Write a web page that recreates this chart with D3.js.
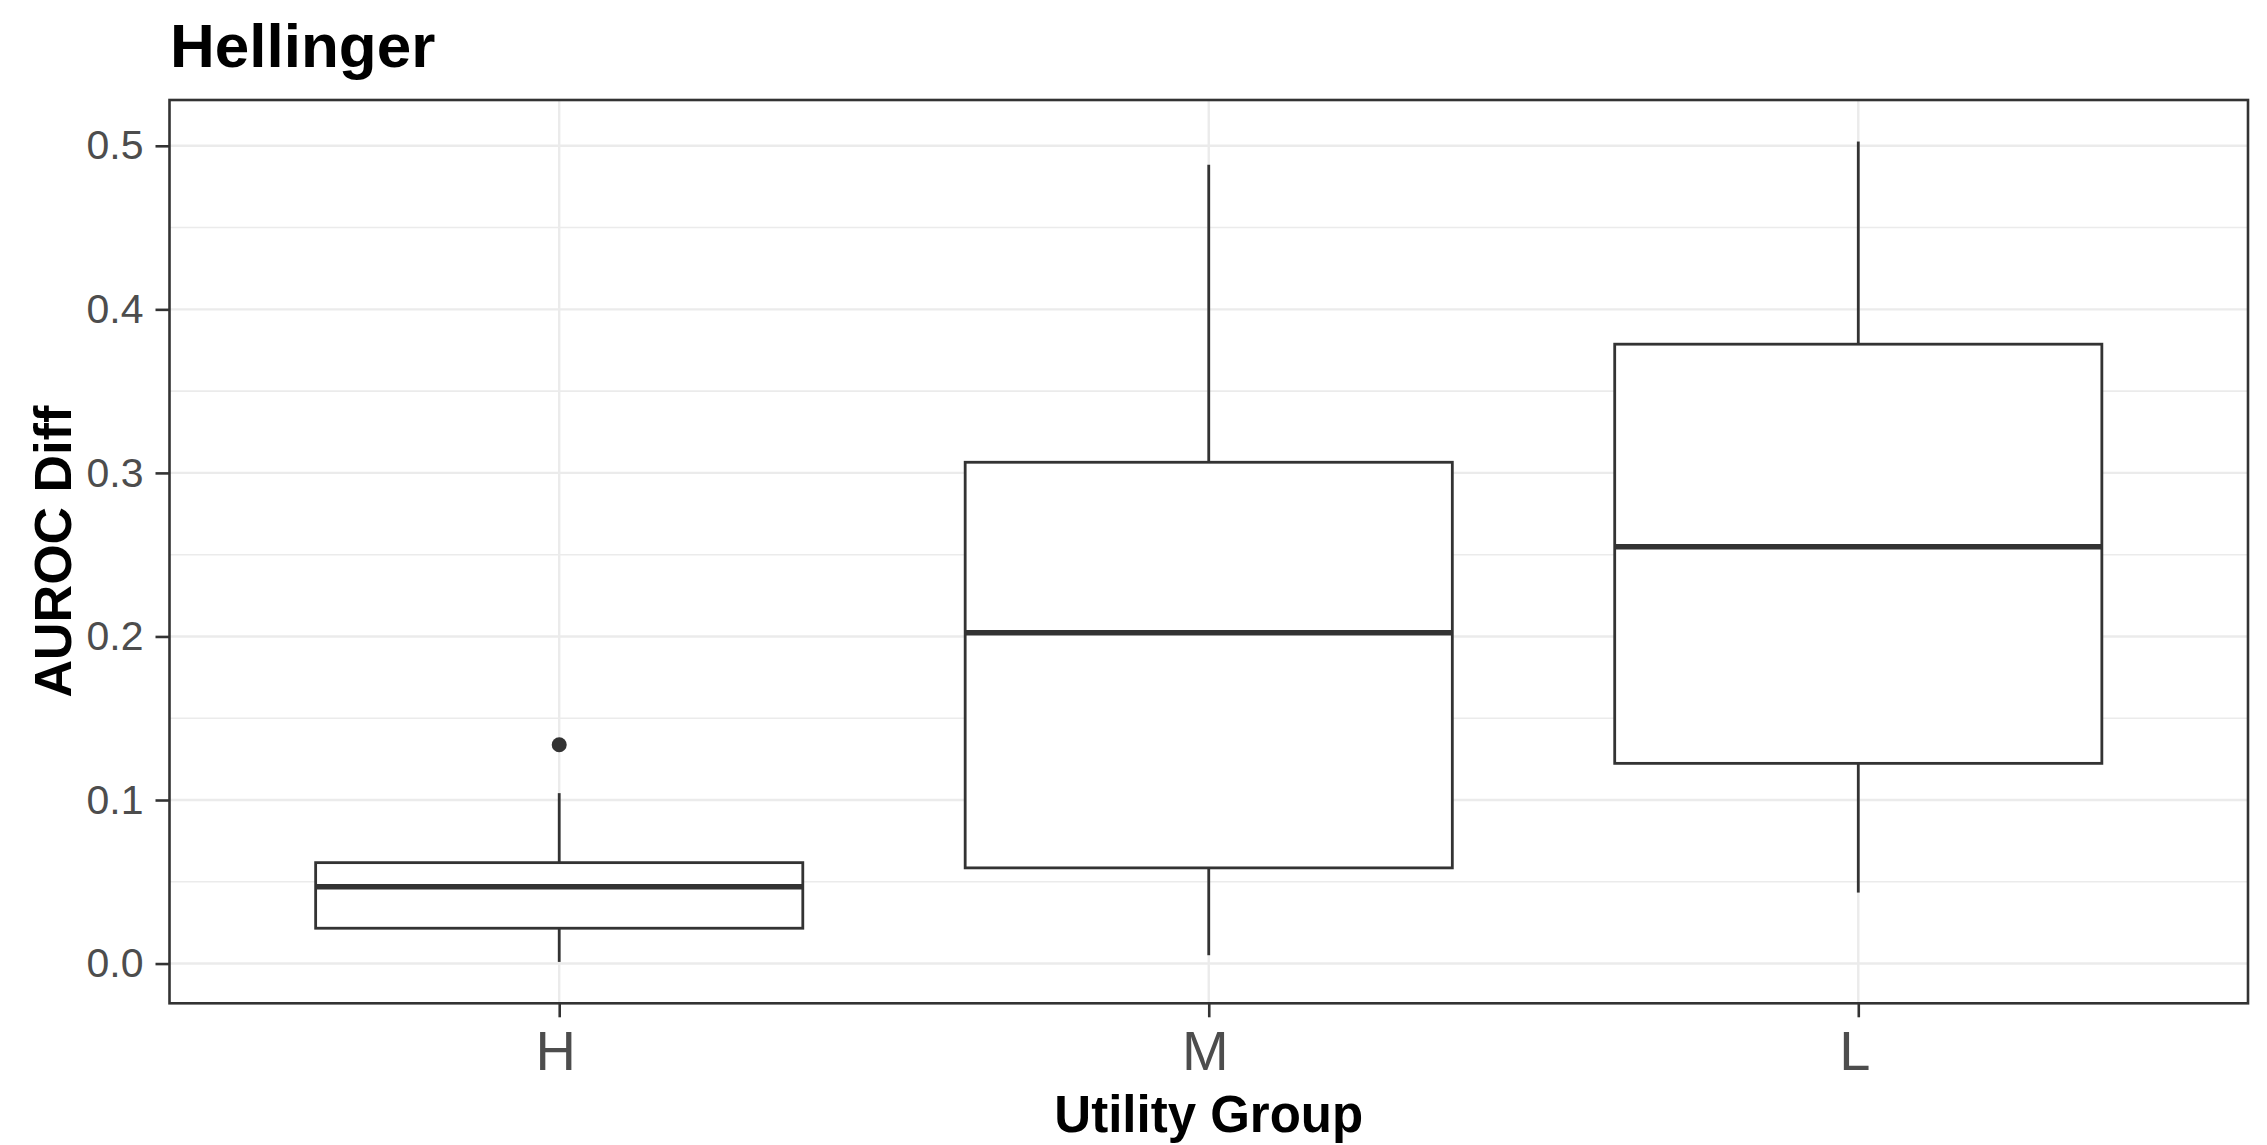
<!DOCTYPE html>
<html>
<head>
<meta charset="utf-8">
<script src="https://cdn.jsdelivr.net/npm/d3@7"></script>
<style>
  html, body { margin: 0; padding: 0; background: #ffffff; }
  svg { display: block; }
  text { font-family: "Liberation Sans", Arial, sans-serif; }
</style>
</head>
<body>
<svg id="chart" width="2267" height="1145"></svg>
<script>
// ---- data ----
const categories = ["H", "M", "L"];
const whiskerLow  = [0.001, 0.0051, 0.0434];
const q1          = [0.0216, 0.0585, 0.1224];
const medians     = [0.047, 0.2023, 0.2549];
const q3          = [0.0617, 0.3065, 0.3787];
const whiskerHigh = [0.1042, 0.4884, 0.5026];
const outlierGroups = ["H"];
const outlierValues = [0.1338];
const yTicks = [0, 0.1, 0.2, 0.3, 0.4, 0.5];
const yMinorTicks = [0.05, 0.15, 0.25, 0.35, 0.45];
const titleText = "Hellinger";
const xTitle = "Utility Group";
const yTitle = "AUROC Diff";

// ---- layout ----
const panel = { left: 169.5, right: 2248, top: 100, bottom: 1003.3 };
const svg = d3.select("#chart");

const y = d3.scaleLinear().domain([-0.0243, 0.528]).range([panel.bottom, panel.top]);
const x = d3.scalePoint().domain(categories).range([panel.left, panel.right]).padding(0.6);
const step = x.step();
const boxW = step * 0.75;

const boxes = categories.map((c, i) => ({
  cat: c, lo: whiskerLow[i], q1: q1[i], med: medians[i], q3: q3[i], hi: whiskerHigh[i]
}));
const outliers = outlierGroups.map((g, i) => ({ cat: g, v: outlierValues[i] }));

// panel background
svg.append("rect")
  .attr("x", panel.left).attr("y", panel.top)
  .attr("width", panel.right - panel.left).attr("height", panel.bottom - panel.top)
  .attr("fill", "#ffffff");

const grid = svg.append("g");
grid.selectAll("line.minor").data(yMinorTicks).join("line")
  .attr("x1", panel.left).attr("x2", panel.right)
  .attr("y1", d => y(d)).attr("y2", d => y(d))
  .attr("stroke", "#ebebeb").attr("stroke-width", 1.6);
grid.selectAll("line.majory").data(yTicks).join("line")
  .attr("x1", panel.left).attr("x2", panel.right)
  .attr("y1", d => y(d)).attr("y2", d => y(d))
  .attr("stroke", "#ebebeb").attr("stroke-width", 2.4);
svg.append("g").selectAll("line").data(categories).join("line")
  .attr("x1", d => x(d)).attr("x2", d => x(d))
  .attr("y1", panel.top).attr("y2", panel.bottom)
  .attr("stroke", "#ebebeb").attr("stroke-width", 2.4);

// boxplots
const col = "#333333";
const bg = svg.append("g");
const bx = bg.selectAll("g.box").data(boxes).join("g");
bx.append("line")
  .attr("x1", d => x(d.cat)).attr("x2", d => x(d.cat))
  .attr("y1", d => y(d.hi)).attr("y2", d => y(d.q3))
  .attr("stroke", col).attr("stroke-width", 2.8);
bx.append("line")
  .attr("x1", d => x(d.cat)).attr("x2", d => x(d.cat))
  .attr("y1", d => y(d.q1)).attr("y2", d => y(d.lo))
  .attr("stroke", col).attr("stroke-width", 2.8);
bx.append("rect")
  .attr("x", d => x(d.cat) - boxW / 2).attr("width", boxW)
  .attr("y", d => y(d.q3)).attr("height", d => y(d.q1) - y(d.q3))
  .attr("fill", "#ffffff").attr("stroke", col).attr("stroke-width", 2.8);
bx.append("line")
  .attr("x1", d => x(d.cat) - boxW / 2).attr("x2", d => x(d.cat) + boxW / 2)
  .attr("y1", d => y(d.med)).attr("y2", d => y(d.med))
  .attr("stroke", col).attr("stroke-width", 5.5);
bg.selectAll("circle").data(outliers).join("circle")
  .attr("cx", d => x(d.cat)).attr("cy", d => y(d.v)).attr("r", 7.5)
  .attr("fill", col);

// panel border
svg.append("rect")
  .attr("x", panel.left).attr("y", panel.top)
  .attr("width", panel.right - panel.left).attr("height", panel.bottom - panel.top)
  .attr("fill", "none").attr("stroke", col).attr("stroke-width", 2.6);

// y axis
const yAxis = d3.axisLeft(y).tickValues(yTicks).tickFormat(d3.format(".1f")).tickSize(14).tickPadding(12);
const ya = svg.append("g").attr("transform", `translate(${panel.left},0)`).call(yAxis);
ya.select(".domain").remove();
ya.selectAll(".tick line").attr("stroke", col).attr("stroke-width", 2.6);
ya.selectAll(".tick text").attr("fill", "#4d4d4d").attr("font-size", 41)
  .attr("font-family", "'Liberation Sans', Arial, sans-serif");

// x axis
const xAxis = d3.axisBottom(x).tickSize(14).tickPadding(12);
const xa = svg.append("g").attr("transform", `translate(0,${panel.bottom})`).call(xAxis);
xa.select(".domain").remove();
xa.selectAll(".tick line").attr("stroke", col).attr("stroke-width", 2.6);
xa.selectAll(".tick text").attr("fill", "#4d4d4d").attr("font-size", 56)
  .attr("font-family", "'Liberation Sans', Arial, sans-serif")
  .attr("dy", null).attr("y", 67).attr("dx", -4);

// titles
svg.append("text").attr("x", 170).attr("y", 67)
  .attr("font-size", 62).attr("font-weight", "bold").attr("fill", "#000")
  .text(titleText);
svg.append("text").attr("x", (panel.left + panel.right) / 2).attr("y", 1132)
  .attr("text-anchor", "middle").attr("font-size", 51).attr("font-weight", "bold").attr("fill", "#000")
  .text(xTitle);
svg.append("text")
  .attr("transform", `translate(71,${(panel.top + panel.bottom) / 2}) rotate(-90)`)
  .attr("text-anchor", "middle").attr("font-size", 52).attr("font-weight", "bold").attr("fill", "#000")
  .text(yTitle);
</script>
</body>
</html>
